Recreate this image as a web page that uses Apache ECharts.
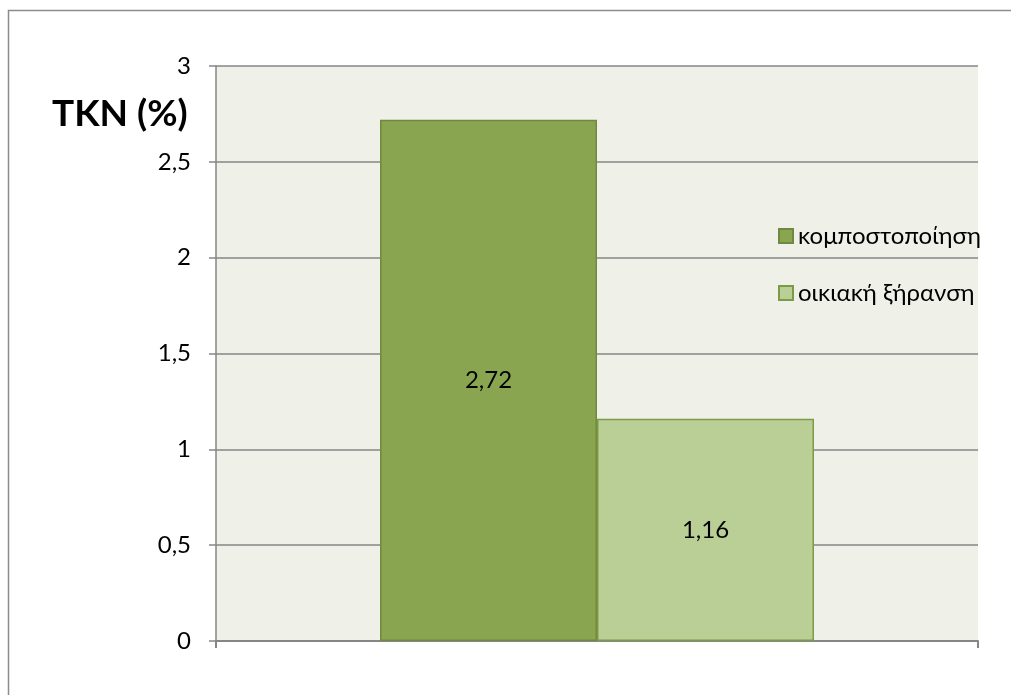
<!DOCTYPE html>
<html>
<head>
<meta charset="utf-8">
<script src="https://cdn.jsdelivr.net/npm/echarts@6/dist/echarts.min.js"></script>
<style>
  html, body { margin: 0; padding: 0; background: #ffffff; }
  #chart { width: 1011px; height: 695px; }
</style>
</head>
<body>
<div id="chart"></div>
<script>
// TKN content by drying method
const categories = ['TKN'];
const seriesNames = ['κομποστοποίηση', 'οικιακή ξήρανση'];
const compostValues = [2.72];
const homeDryValues = [1.16];
const yTicks = { min: 0, max: 3, step: 0.5 };

const FONT = 'Lato, "Noto Sans", sans-serif';
const comma = v => String(v).replace('.', ',');

const chart = echarts.init(document.getElementById('chart'), null, { renderer: 'canvas' });

chart.setOption({
  animation: false,
  backgroundColor: '#ffffff',
  title: {
    text: 'TKN (%)',
    left: 47,
    top: 91,
    textStyle: { fontFamily: FONT, fontSize: 37, fontWeight: 'bold', color: '#000000' }
  },
  graphic: [
    {
      type: 'rect',
      shape: { x: 8.5, y: 10.5, width: 1020, height: 700 },
      style: { fill: 'none', stroke: '#8c8c8c', lineWidth: 1.5 },
      silent: true
    }
  ],
  legend: {
    orient: 'vertical',
    left: 773,
    top: 219,
    itemWidth: 14,
    itemHeight: 14,
    itemGap: 33,
    icon: 'rect',
    textStyle: { fontFamily: FONT, fontSize: 24, color: '#000000', padding: [0, 0, 0, 0] },
    data: seriesNames
  },
  grid: { left: 216, right: 33, top: 66, bottom: 54, show: true, backgroundColor: '#eff1e9', borderWidth: 0 },
  xAxis: {
    type: 'category',
    data: categories,
    axisLine: { show: true, lineStyle: { color: '#868686', width: 2 } },
    axisTick: { show: true, length: 7, alignWithLabel: false, lineStyle: { color: '#868686', width: 2 } },
    axisLabel: { show: false },
    splitLine: { show: false }
  },
  yAxis: {
    type: 'value',
    min: yTicks.min,
    max: yTicks.max,
    interval: yTicks.step,
    axisLine: { show: true, lineStyle: { color: '#868686', width: 1.5 } },
    axisTick: { show: true, length: 7, lineStyle: { color: '#868686', width: 1.5 } },
    axisLabel: { fontFamily: FONT, fontSize: 24, color: '#000000', margin: 25, formatter: v => comma(v) },
    splitLine: { show: true, lineStyle: { color: '#868686', width: 1.5 } }
  },
  series: [
    {
      name: seriesNames[0],
      type: 'bar',
      data: compostValues,
      barWidth: 217,
      barGap: '0%',
      itemStyle: { color: '#8aa54f', borderColor: '#71893e', borderWidth: 1.5 },
      label: { show: true, position: 'inside', fontFamily: FONT, fontSize: 24, color: '#000000', formatter: p => comma(p.value) },
      z: 3
    },
    {
      name: seriesNames[1],
      type: 'bar',
      data: homeDryValues,
      barWidth: 217,
      barGap: '0%',
      itemStyle: { color: '#bacf96', borderColor: '#7d9a47', borderWidth: 1.5 },
      label: { show: true, position: 'inside', fontFamily: FONT, fontSize: 24, color: '#000000', formatter: p => comma(p.value) },
      z: 3
    }
  ]
});
</script>
</body>
</html>
